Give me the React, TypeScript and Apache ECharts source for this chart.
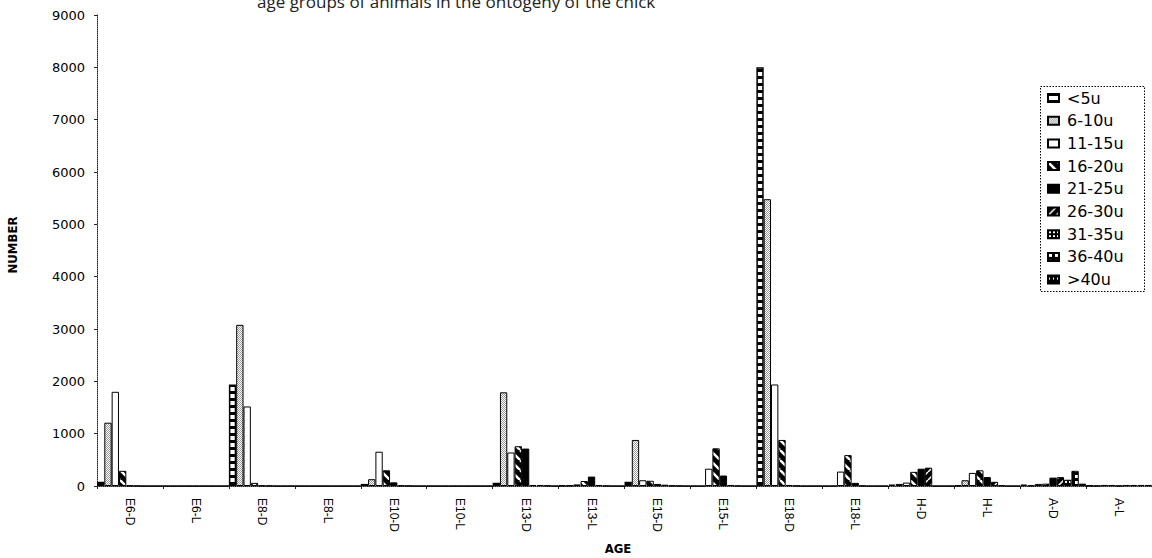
import React, { useEffect, useRef } from "react";
import * as echarts from "echarts";

const categories = ["E6-D", "E6-L", "E8-D", "E8-L", "E10-D", "E10-L", "E13-D", "E13-L", "E15-D", "E15-L", "E18-D", "E18-L", "H-D", "H-L", "A-D", "A-L"];
const seriesNames = ["<5u", "6-10u", "11-15u", "16-20u", "21-25u", "26-30u", "31-35u", "36-40u", ">40u"];
const yTicks = [0, 1000, 2000, 3000, 4000, 5000, 6000, 7000, 8000, 9000];

const lt5 = [80, 0, 1940, 0, 40, 0, 60, 10, 80, 0, 8000, 0, 25, 10, 25, 5];
const s6to10 = [1210, 0, 3080, 0, 130, 0, 1790, 10, 880, 0, 5480, 0, 40, 110, 10, 5];
const s11to15 = [1800, 0, 1520, 0, 655, 0, 640, 30, 110, 330, 1940, 275, 65, 250, 40, 20];
const s16to20 = [290, 0, 60, 0, 300, 0, 760, 95, 100, 720, 880, 590, 270, 300, 45, 20];
const s21to25 = [10, 0, 10, 0, 70, 0, 715, 180, 40, 200, 20, 60, 330, 170, 160, 5];
const s26to30 = [5, 0, 5, 0, 10, 0, 20, 20, 25, 20, 5, 5, 350, 80, 170, 20];
const s31to35 = [0, 0, 0, 0, 5, 0, 20, 5, 10, 5, 0, 0, 0, 10, 120, 20];
const s36to40 = [0, 0, 0, 0, 0, 0, 10, 0, 5, 0, 0, 0, 0, 0, 290, 20];
const gt40 = [0, 0, 0, 0, 0, 0, 0, 0, 0, 0, 0, 0, 0, 0, 45, 20];

const seriesData = [lt5, s6to10, s11to15, s16to20, s21to25, s26to30, s31to35, s36to40, gt40];

const titleText = "age groups of animals in the ontogeny of the chick";

function pattern(w: number, h: number, draw: (ctx: CanvasRenderingContext2D) => void) {
  const c = document.createElement("canvas");
  c.width = w;
  c.height = h;
  const ctx = c.getContext("2d") as CanvasRenderingContext2D;
  draw(ctx);
  return { image: c, repeat: "repeat" };
}

function hatch(s: number, dir: "back" | "fwd", lw: number, bg: string, fg: string) {
  return pattern(s, s, (ctx) => {
    ctx.fillStyle = bg;
    ctx.fillRect(0, 0, s, s);
    ctx.strokeStyle = fg;
    ctx.lineWidth = lw;
    ctx.beginPath();
    for (const k of [-1, 0, 1]) {
      if (dir === "back") {
        ctx.moveTo(k * s, 0);
        ctx.lineTo(k * s + s, s);
      } else {
        ctx.moveTo(k * s, s);
        ctx.lineTo(k * s + s, 0);
      }
    }
    ctx.stroke();
  });
}

export default function App() {
  const ref = useRef<HTMLDivElement>(null);
  useEffect(() => {
    if (!ref.current) return;
    const chart = echarts.init(ref.current, undefined, { renderer: "svg" });
    const pats: any[] = [
      pattern(4, 7, (ctx) => {
        ctx.fillStyle = "#000";
        ctx.fillRect(0, 0, 4, 7);
        ctx.fillStyle = "#fff";
        ctx.fillRect(0, 2, 4, 4);
      }),
      pattern(2, 2, (ctx) => {
        ctx.fillStyle = "#fff";
        ctx.fillRect(0, 0, 2, 2);
        ctx.fillStyle = "#999";
        ctx.fillRect(0, 0, 1, 1);
        ctx.fillRect(1, 1, 1, 1);
      }),
      "#ffffff",
      hatch(10, "back", 2.5, "#000", "#fff"),
      "#000000",
      hatch(8, "fwd", 1.5, "#000", "#fff"),
      pattern(4, 4, (ctx) => {
        ctx.fillStyle = "#000";
        ctx.fillRect(0, 0, 4, 4);
        ctx.fillStyle = "#fff";
        ctx.fillRect(1, 1, 2, 2);
      }),
      pattern(6, 6, (ctx) => {
        ctx.fillStyle = "#000";
        ctx.fillRect(0, 0, 6, 6);
        ctx.fillStyle = "#fff";
        ctx.fillRect(1, 1, 3, 3);
      }),
      pattern(4, 6, (ctx) => {
        ctx.fillStyle = "#000";
        ctx.fillRect(0, 0, 4, 6);
        ctx.fillStyle = "#fff";
        ctx.fillRect(1, 2, 1, 2);
      }),
    ];

    const option: any = {
      animation: false,
      backgroundColor: "#ffffff",
      grid: { left: 97, top: 15, width: 1058, height: 471 },
      legend: {
        orient: "vertical",
        left: 1047,
        top: 90,
        padding: 0,
        itemWidth: 11,
        itemHeight: 8,
        itemGap: 6.7,
        icon: "rect",
        data: seriesNames,
        selectedMode: false,
        textStyle: { fontFamily: "DejaVu Sans", fontSize: 16, lineHeight: 16, color: "#000", padding: [0, 0, 0, 3] },
      },
      xAxis: {
        type: "category",
        data: categories,
        axisLine: { lineStyle: { color: "#222", type: "dotted", width: 1 } },
        axisTick: { show: true, length: 3, lineStyle: { color: "#222" } },
        axisLabel: { rotate: -90, interval: 0, margin: 12, fontFamily: "Liberation Sans", fontSize: 12, color: "#000" },
        splitLine: { show: false },
      },
      yAxis: {
        type: "value",
        min: yTicks[0],
        max: yTicks[yTicks.length - 1],
        interval: 1000,
        axisLine: { show: true, lineStyle: { color: "#222", type: "dotted", width: 1 } },
        axisTick: { show: true, length: 3, lineStyle: { color: "#222" } },
        axisLabel: {
          margin: 12,
          fontFamily: "DejaVu Sans",
          fontSize: 13,
          color: "#000",
          formatter: (v: number) => String(v),
        },
        splitLine: { show: false },
      },
      graphic: [
        {
          type: "text",
          left: 257,
          top: -7,
          style: { text: titleText, fontFamily: "Open Sans", fontSize: 17, fill: "#222" },
        },
        {
          type: "text",
          x: 12,
          y: 245,
          rotation: Math.PI / 2,
          style: {
            text: "NUMBER",
            fontFamily: "'Liberation Sans Narrow', 'DejaVu Sans Condensed', 'Liberation Sans'",
            fontWeight: "bold",
            fontSize: 13,
            fill: "#000",
            align: "center",
            verticalAlign: "middle",
          },
        },
        {
          type: "text",
          x: 618,
          y: 548,
          style: {
            text: "AGE",
            fontFamily: "'Liberation Sans Narrow', 'DejaVu Sans Condensed', 'Liberation Sans'",
            fontWeight: "bold",
            fontSize: 13,
            fill: "#000",
            align: "center",
            verticalAlign: "middle",
          },
        },
        {
          type: "rect",
          shape: { x: 1040.5, y: 86.5, width: 104, height: 205 },
          style: { fill: "none", stroke: "#000", lineWidth: 1, lineDash: [1.5, 1.5] },
          z: 10,
        },
      ],
      series: seriesNames.map((name, i) => ({
        type: "bar",
        name,
        data: seriesData[i],
        barGap: "0%",
        barCategoryGap: "0%",
        itemStyle: { color: pats[i], borderColor: "#000", borderWidth: i === 0 ? 1.5 : 1 },
        emphasis: { disabled: true },
      })),
    };
    chart.setOption(option);
    return () => chart.dispose();
  }, []);
  return <div ref={ref} style={{ position: "absolute", left: 0, top: 0, width: 1152, height: 558 }} />;
}
